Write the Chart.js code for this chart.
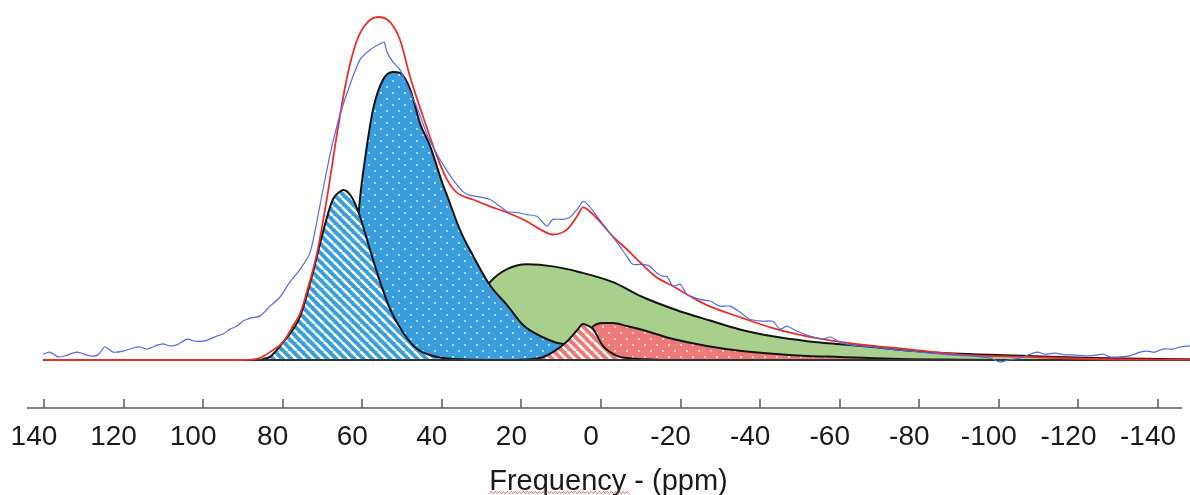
<!DOCTYPE html>
<html><head><meta charset="utf-8">
<script src="https://cdn.jsdelivr.net/npm/chart.js@4.4.1/dist/chart.umd.min.js"></script>
<style>html,body{margin:0;padding:0;background:#fff;}</style>
</head><body>
<canvas id="c" width="1190" height="495"></canvas>
<script>
// ---- tick labels (ppm) ----
const tickValues = [140,120,100,80,60,40,20,0,-20,-40,-60,-80,-100,-120,-140];
const axisTitle = 'Frequency - (ppm)';
const axisStartPpm = 144.26, axisEndPpm = -146;

// ---- experimental spectrum (blue noisy line) ----
const expPpm = [140.2,138.5,136.5,134.7,131.7,128.4,126.4,124.7,122.6,120.1,117.6,115.8,114.1,112.1,110.1,108.3,106.6,104.0,102.0,100.0,98.3,96.5,95.0,93.2,91.5,90.0,88.2,85.7,84.4,83.2,80.7,78.2,75.6,73.1,70.6,68.1,65.6,63.1,60.6,58.1,55.5,54.5,53.8,52.3,50.5,48.8,46.2,43.7,41.2,39.2,37.2,34.7,32.9,31.2,27.9,25.4,23.6,21.1,18.6,16.1,14.6,13.6,12.1,9.6,7.8,6.0,4.5,3.3,1.0,-1.5,-4.0,-6.5,-8.0,-10.6,-12.3,-14.1,-15.6,-16.6,-18.1,-19.9,-21.6,-24.9,-27.4,-29.9,-32.4,-34.9,-37.4,-40.7,-43.2,-45.0,-46.7,-49.3,-52.5,-55.8,-57.6,-60.1,-62.6,-65.1,-68.4,-72.6,-77.7,-82.7,-87.7,-92.7,-97.8,-100.3,-102.3,-105.3,-109.6,-111.6,-114.1,-116.6,-118.6,-122.9,-126.2,-127.9,-130.4,-132.9,-135.5,-137.2,-139.2,-141.2,-143.8,-145.5,-148.0];
const expInt = [1.7,2.3,0.9,1.2,2.3,1.2,1.5,3.8,2.3,2.6,3.5,3.8,3.2,4.1,4.7,4.1,4.4,6.1,5.5,5.5,6.1,7.0,7.6,9.0,9.9,11.3,12.2,12.8,14.2,15.7,18.3,22.7,26.5,31.4,45.3,59.9,71.5,80.2,87.5,90.4,92.2,92.7,89.8,86.9,84.6,80.2,73.5,65.7,59.9,56.1,52.6,49.1,48.0,47.7,46.8,44.8,43.3,43.0,42.4,41.9,40.1,39.0,41.0,41.0,41.6,43.9,46.2,45.3,41.9,38.1,34.3,30.2,27.9,27.9,27.3,25.3,24.4,24.4,21.5,22.1,19.2,17.7,17.2,15.7,15.7,14.0,11.9,11.3,11.3,9.0,9.9,8.4,7.0,6.1,6.7,5.2,4.4,4.1,3.8,3.2,2.6,2.0,1.5,1.2,0.6,-0.6,0,0.6,2.3,1.7,2.0,1.5,1.5,1.2,1.7,0.9,0.9,1.2,2.3,2.6,2.3,3.2,3.2,3.8,4.1];

// ---- total fit (red line) ----
const fitPpm = [140,90,86.5,84.7,83.2,79.9,77.4,75.6,73.9,71.4,68.9,66.3,63.8,61.3,58.8,56.0,53.0,50.5,48.0,44.7,41.2,38.7,36.2,32.2,27.9,23.6,18.6,15.3,12.1,8.5,6.0,4.5,2.8,0.3,-3.0,-6.5,-9.8,-13.6,-18.1,-22.4,-26.6,-34.9,-43.2,-51.8,-60.1,-68.4,-75.1,-90.2,-107.1,-123.6,-148];
const fitInt = [0,0,0.3,1.2,2.3,5.2,10.0,13.6,20.0,31.0,47.0,66.3,82.6,93.3,98.3,100,98.5,93.3,82.6,70.9,59.3,52.6,48.8,46.8,44.8,43.0,40.4,38.1,36.6,38.1,41.9,44.5,43.3,40.4,36.0,32.3,28.5,24.4,21.5,18.6,16.0,12.5,9.3,6.9,5.3,4.1,3.4,1.6,0.9,0.3,0.1];

// ---- component: blue striped ----
const stPpm = [90,86,84.9,83.2,79.9,75.6,72.4,69.9,67.4,65.6,64.8,63.8,62.3,60.6,58.1,55.5,53.0,49.8,46.2,41.2,35.4,25.4];
const stInt = [0,0,0.3,0.9,5.2,12.8,25.6,37.2,46.8,49.1,49.6,49.1,46.8,41.9,32.3,22.7,14.8,8.1,3.2,0.9,0.2,0];

// ---- component: blue dotted ----
const dbPpm = [80,74.4,70.6,67.4,64.8,63.1,61.3,60.6,59.3,57.3,54.8,52.3,50.5,48.0,45.5,43.0,39.7,38.7,35.4,32.2,27.9,23.6,19.6,15.3,11.6,8.5,5.3,0.3,-4.8,-12.3,-24.9];
const dbInt = [0,0.3,2,6,14,24,37.2,46.8,58.7,73.0,81.7,84.0,83.7,79.0,69.0,62.5,51.0,48.0,37.8,30.5,21.8,16.0,10.2,7.0,5.2,4.4,3.2,1.7,0.9,0.3,0];

// ---- component: green ----
const grPpm = [46,40.5,35.4,31.7,27.9,23.6,18.6,12.1,5.3,-3.0,-10.6,-18.9,-27.4,-34.9,-43.2,-51.8,-60.1,-68.4,-77.7,-90.2,-107.1,-123.6,-140.5,-148];
const grInt = [0,2,8,16,22.7,26.5,27.9,27.3,25.6,22.7,18.3,14.6,11.5,8.9,6.9,5.5,4.6,3.8,2.7,1.8,1.2,0.6,0.3,0.2];

// ---- component: red hatched ----
const rhPpm = [22.1,15.3,12.1,8.5,6.0,4.5,3.3,2.0,-0.5,-4.0,-7.3,-14.8];
const rhInt = [0,0.6,2.3,5.5,8.7,10.5,10.0,9.0,4.1,1.2,0.5,0];

// ---- component: red dotted ----
const rdPpm = [7.8,4.5,2.8,2.0,1.0,-0.5,-3.0,-6.5,-11.6,-18.1,-26.6,-34.9,-43.2,-51.8,-60.1,-75.1,-90.2,-105];
const rdInt = [0,3,8.5,9.8,10.5,10.8,10.8,9.9,8.4,6.1,4.1,2.7,1.8,1.2,0.9,0.3,0.1,0];

// ---- baseline ----
const basePpm = [140.2,-148];
const baseInt = [0,0];

function pts(xs, ys){ return xs.map((x,i)=>({x:x, y:ys[i]})); }

function stripePattern(bg, fg, size, w){
  const c = document.createElement('canvas'); c.width = size; c.height = size;
  const g = c.getContext('2d');
  g.fillStyle = bg; g.fillRect(0,0,size,size);
  g.strokeStyle = fg; g.lineWidth = w; g.beginPath();
  [-size,0,size].forEach(k=>{ g.moveTo(k,0); g.lineTo(k+size,size); });
  g.stroke();
  return g.createPattern(c,'repeat');
}
function dotPattern(bg, fg, size, r){
  const c = document.createElement('canvas'); c.width = size; c.height = size;
  const g = c.getContext('2d');
  g.fillStyle = bg; g.fillRect(0,0,size,size);
  g.fillStyle = fg;
  [[size/4,size/4],[size*3/4,size*3/4]].forEach(p=>{ g.beginPath(); g.arc(p[0],p[1],r,0,Math.PI*2); g.fill(); });
  return g.createPattern(c,'repeat');
}

const BLUE = 'rgb(58,158,221)', GREEN = 'rgb(168,208,140)', SALMON = 'rgb(236,122,120)';
const OUT = '#141414';
const fontFam = "'Liberation Sans', Arial, sans-serif";

function comp(label, xs, ys, bg, order){
  return {label, data: pts(xs,ys), borderColor: OUT, borderWidth: 2, backgroundColor: bg,
          fill: 'origin', pointRadius: 0, cubicInterpolationMode: 'monotone', order};
}

const axisPlugin = {
  id: 'axisMarks',
  afterDraw(chart){
    const sx = chart.scales.x, ca = chart.chartArea, ctx = chart.ctx;
    const y = ca.bottom;
    ctx.save();
    ctx.strokeStyle = '#5a5a5a'; ctx.lineWidth = 1.5;
    ctx.beginPath();
    ctx.moveTo(sx.getPixelForValue(axisStartPpm), y);
    ctx.lineTo(sx.getPixelForValue(axisEndPpm), y);
    tickValues.forEach(v=>{ const x = Math.round(sx.getPixelForValue(v)); ctx.moveTo(x, y); ctx.lineTo(x, y-9); });
    ctx.stroke();
    // spell-check style wavy underline under the first word of the title
    const tf = chart.options.scales.x.title.font;
    ctx.font = tf.size + 'px ' + tf.family;
    const total = ctx.measureText(axisTitle).width;
    const word = ctx.measureText(axisTitle.split(' ')[0]).width;
    const cx = (sx.left + sx.right) / 2;
    const x0 = cx - total/2, ty = chart.height - 2.5;
    ctx.strokeStyle = 'rgba(215,70,70,0.85)'; ctx.lineWidth = 1;
    ctx.beginPath();
    for (let x = x0, i = 0; x <= x0 + word + 4; x += 2, i++) {
      const yy = ty + (i % 2 ? -1.1 : 1.1);
      if (i === 0) ctx.moveTo(x, yy); else ctx.lineTo(x, yy);
    }
    ctx.stroke();
    ctx.restore();
  }
};

new Chart(document.getElementById('c'), {
  type: 'line',
  data: {
    datasets: [
      {label:'Experimental', data: pts(expPpm, expInt), borderColor:'rgb(88,108,222)', borderWidth:1.2, fill:false, pointRadius:0, tension:0.25, order:0},
      {label:'Fit', data: pts(fitPpm, fitInt), borderColor:'rgb(232,48,40)', borderWidth:1.8, fill:false, pointRadius:0, cubicInterpolationMode:'monotone', order:1},
      {label:'Baseline', data: pts(basePpm, baseInt), borderColor:'#333', borderWidth:2, fill:false, pointRadius:0, order:2},
      comp('Red hatched', rhPpm, rhInt, stripePattern(SALMON, '#fff', 9, 2.6), 3),
      comp('Red dotted', rdPpm, rdInt, dotPattern(SALMON, 'rgba(255,255,255,0.8)', 12, 1.1), 4),
      comp('Blue striped', stPpm, stInt, stripePattern(BLUE, '#fff', 9, 2.6), 5),
      comp('Blue dotted', dbPpm, dbInt, dotPattern(BLUE, 'rgba(255,255,255,0.75)', 12, 1.1), 6),
      comp('Green', grPpm, grInt, GREEN, 7)
    ]
  },
  options: {
    responsive: false, animation: false, devicePixelRatio: 1,
    layout: {padding: {left: 27, right: 0, top: 0, bottom: 0}},
    plugins: {legend: {display: false}, tooltip: {enabled: false}},
    elements: {point: {radius: 0}},
    scales: {
      x: {
        type: 'linear', reverse: true, min: -148.03, max: axisStartPpm,
        afterBuildTicks: s => { s.ticks = tickValues.map(v => ({value: v})); },
        afterFit: s => { s.paddingLeft = 0; s.paddingRight = 0; },
        grid: {display: false, drawTicks: false},
        border: {display: false},
        ticks: {padding: 15, labelOffset: -10, color: '#1a1a1a', autoSkip: false, maxRotation: 0,
                font: {family: fontFam, size: 28, lineHeight: 1.0}, callback: v => String(v)},
        title: {display: true, text: axisTitle, color: '#1a1a1a',
                font: {family: fontFam, size: 29, lineHeight: 1.0}, padding: {top: 1.5, bottom: -1.5}}
      },
      y: {display: false, min: -13.99, max: 104.96}
    }
  },
  plugins: [axisPlugin]
});
</script>
</body></html>
